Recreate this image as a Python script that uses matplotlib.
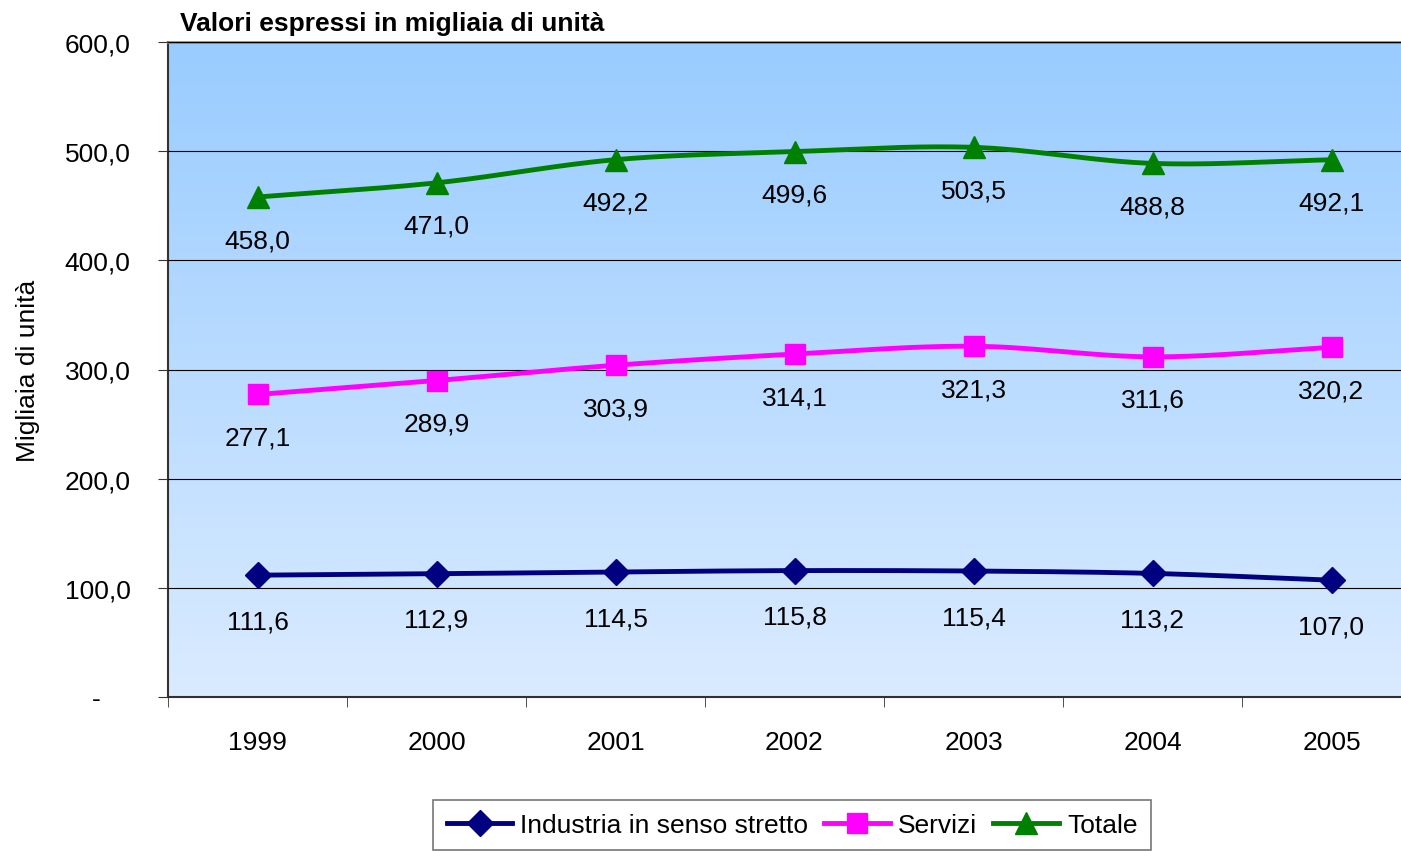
import numpy as np
import matplotlib.pyplot as plt
from matplotlib import font_manager

years = ['1999', '2000', '2001', '2002', '2003', '2004', '2005']
industria = [111.6, 112.9, 114.5, 115.8, 115.4, 113.2, 107.0]
servizi = [277.1, 289.9, 303.9, 314.1, 321.3, 311.6, 320.2]
totale = [458.0, 471.0, 492.2, 499.6, 503.5, 488.8, 492.1]
y_ticks = [0, 100, 200, 300, 400, 500, 600]
y_ticklabels = ['-    ', '100,0', '200,0', '300,0', '400,0', '500,0', '600,0']

names = {f.name for f in font_manager.fontManager.ttflist}
narrow = 'Liberation Sans Narrow' if 'Liberation Sans Narrow' in names else 'Liberation Sans'
plt.rcParams['font.family'] = [narrow, 'DejaVu Sans']


def smooth(x, y, n=30):
    # Catmull-Rom curve through the points, like Excel's smoothed lines
    x = np.asarray(x, float)
    y = np.asarray(y, float)
    px = np.concatenate([[2 * x[0] - x[1]], x, [2 * x[-1] - x[-2]]])
    py = np.concatenate([[2 * y[0] - y[1]], y, [2 * y[-1] - y[-2]]])
    xs, ys = [], []
    t = np.linspace(0, 1, n)
    for i in range(1, len(px) - 2):
        for p, out in ((px, xs), (py, ys)):
            p0, p1, p2, p3 = p[i - 1], p[i], p[i + 1], p[i + 2]
            out.extend(0.5 * ((2 * p1) + (-p0 + p2) * t
                              + (2 * p0 - 5 * p1 + 4 * p2 - p3) * t ** 2
                              + (-p0 + 3 * p1 - 3 * p2 + p3) * t ** 3))
    return np.array(xs), np.array(ys)


fig = plt.figure(figsize=(14.01, 8.53), dpi=100)
W, H = 1401, 853
ax = fig.add_axes([168 / W, 1 - 698 / H, 1253 / W, 655 / H])

# gradient background
grad = np.linspace(0, 1, 256).reshape(-1, 1)
top = np.array([153, 204, 255]) / 255
bottom = np.array([218, 235, 255]) / 255
img = bottom + (top - bottom) * grad
ax.imshow(img[:, None, :].repeat(2, axis=1), extent=[-0.5, 6.5, 0, 600],
          origin='lower', aspect='auto', zorder=0)

x = np.arange(len(years))
series = [
    (industria, '#000080', 'D', 13, 'Industria in senso stretto', 46),
    (servizi, '#FF00FF', 's', 14, 'Servizi', 43),
    (totale, '#008000', '^', 16, 'Totale', 43),
]
handles = []
for vals, color, marker, ms, label, off in series:
    sx, sy = smooth(x, vals)
    ax.plot(sx, sy, color=color, lw=3.5, zorder=3, solid_capstyle='round')
    ax.plot(x, vals, linestyle='none', marker=marker, ms=ms, color=color, zorder=4)
    h, = ax.plot([], [], color=color, lw=3.5, marker=marker, ms=ms, label=label)
    handles.append(h)
    for xi, v in zip(x, vals):
        lbl = f'{v:.1f}'.replace('.', ',')
        ax.annotate(lbl, (xi, v), xytext=(0, -off), textcoords='offset pixels',
                    ha='center', va='center', fontsize=19, zorder=5)

ax.set_xlim(-0.5, 6.5)
ax.set_ylim(0, 600)
ax.set_yticks(y_ticks)
ax.set_yticklabels(y_ticklabels, fontsize=19)
ax.yaxis.grid(True, color='black', lw=0.8)
ax.set_axisbelow(False)
ax.set_xticks(x)
ax.set_xticklabels(years, fontsize=19)
ax.set_xticks(np.arange(-0.5, 6.5, 1), minor=True)
ax.tick_params(axis='x', which='major', length=0, pad=24)
ax.tick_params(axis='x', which='minor', length=7, color='#333333')
ax.tick_params(axis='y', length=7, pad=20, color='#333333')
for lbl in ax.get_yticklabels():
    lbl.set_horizontalalignment('right')
ax.spines['left'].set_color('#333333')
ax.spines['bottom'].set_color('#333333')
ax.spines['top'].set_color('#888888')
ax.spines['top'].set_linewidth(2)
ax.spines['right'].set_visible(False)
for s in ('left', 'bottom'):
    ax.spines[s].set_linewidth(1.5)
ax.set_ylabel('Migliaia di unità', fontsize=19)
ax.yaxis.set_label_coords(-128 / 1253, 0.5)

fig.text(180 / W, 1 - 24 / H, 'Valori espressi in migliaia di unità',
         fontsize=19, fontweight='bold', family='Liberation Sans', va='center')

leg = fig.legend(handles=handles, loc='center', bbox_to_anchor=(792 / W, 1 - 826 / H),
                 ncol=3, fontsize=19, frameon=True, fancybox=False,
                 handlelength=2.5, handletextpad=0.3, columnspacing=0.6,
                 borderpad=0.5)
leg.get_frame().set_edgecolor('#555555')
leg.get_frame().set_linewidth(1.2)

fig.savefig('out.png', dpi=100)
